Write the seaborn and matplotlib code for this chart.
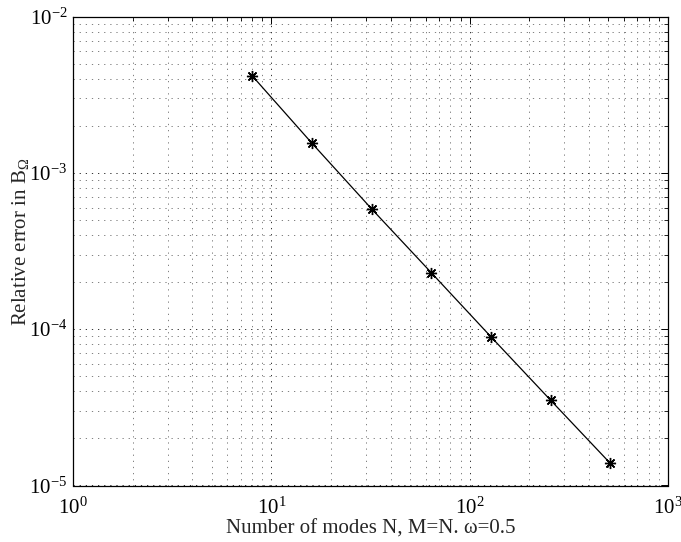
import matplotlib
matplotlib.use("Agg")
import matplotlib.pyplot as plt
import seaborn as sns
import pandas as pd
from matplotlib.ticker import LogLocator, NullFormatter

# Data
modes_N = [8, 16, 32, 64, 128, 256, 512]
rel_error = [4.18e-3, 1.55e-3, 5.89e-4, 2.30e-4, 8.94e-5, 3.51e-5, 1.385e-5]
x_label = "Number of modes N, M=N. \u03c9=0.5"
y_label = r"Relative error in B$_\Omega$"

sns.set_style("white")
plt.rcParams["font.family"] = ["Liberation Serif", "DejaVu Serif"]
plt.rcParams["mathtext.fontset"] = "custom"
plt.rcParams["mathtext.rm"] = "Liberation Serif"
plt.rcParams["mathtext.it"] = "Liberation Serif:italic"
plt.rcParams["mathtext.bf"] = "Liberation Serif:bold"

df = pd.DataFrame({"N": modes_N, "err": rel_error})

fig = plt.figure(figsize=(6.81, 5.42), dpi=100)
ax = fig.add_axes([73 / 681, 1 - 485.5 / 542, (668 - 73) / 681, (485.5 - 16.5) / 542])

ax.set_xscale("log")
ax.set_yscale("log")

sns.lineplot(data=df, x="N", y="err", ax=ax, color="black", lw=0.9,
             marker=(8, 2, 0), markersize=8, markeredgecolor="black",
             markerfacecolor="black", markeredgewidth=1.0)

ax.set_xlim(1, 1000)
ax.set_ylim(1e-5, 1e-2)

ax.xaxis.set_major_locator(LogLocator(base=10, numticks=10))
ax.yaxis.set_major_locator(LogLocator(base=10, numticks=10))
ax.xaxis.set_minor_locator(LogLocator(base=10, subs=range(2, 10), numticks=20))
ax.yaxis.set_minor_locator(LogLocator(base=10, subs=range(2, 10), numticks=20))
ax.xaxis.set_minor_formatter(NullFormatter())
ax.yaxis.set_minor_formatter(NullFormatter())

ax.grid(True, which="major", linestyle=(0, (1.3, 5)), color="0.2", linewidth=0.7)
ax.grid(True, which="minor", linestyle=(0, (1.3, 5)), color="0.5", linewidth=0.7)

ax.tick_params(which="both", direction="in", top=True, right=True,
               colors="black", labelsize=15)
ax.tick_params(axis="x", which="major", pad=9)
ax.tick_params(axis="y", which="major", pad=4)
ax.tick_params(which="major", length=5, width=0.7)
ax.tick_params(which="minor", length=3, width=0.6)
for s in ax.spines.values():
    s.set_color("black")
    s.set_linewidth(0.9)

ax.set_xlabel(x_label, fontsize=15, labelpad=0)
ax.set_ylabel(y_label, fontsize=15, labelpad=-2)
ax.yaxis.set_label_coords(-0.07, 0.52)

fig.savefig("out.png", dpi=100)
